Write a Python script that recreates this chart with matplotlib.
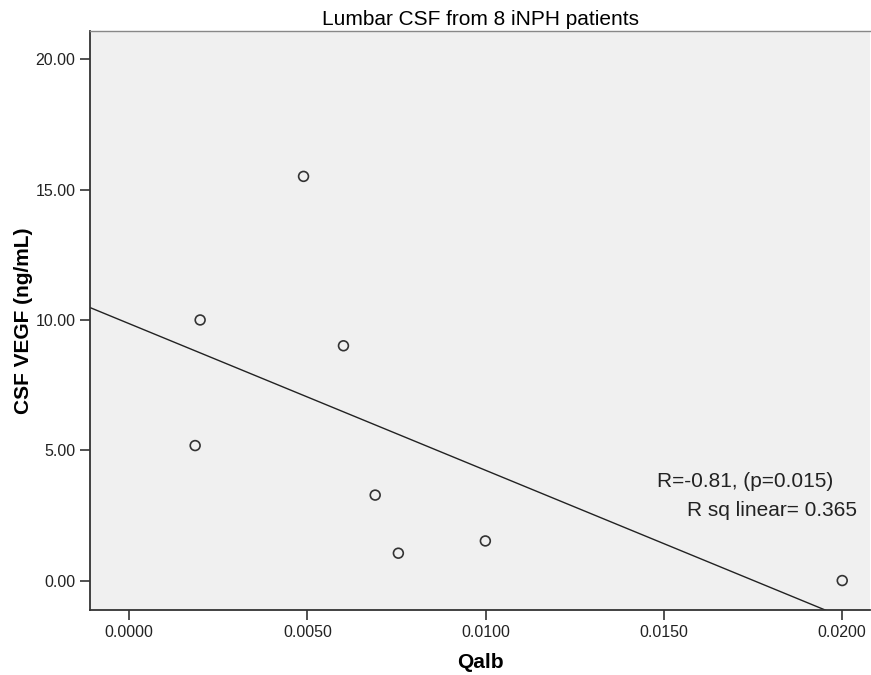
import numpy as np
import matplotlib.pyplot as plt

plt.rcParams['font.family'] = ['Liberation Sans', 'DejaVu Sans']

# Qalb vs CSF VEGF
qalb = [0.00185, 0.00199, 0.00489, 0.00601, 0.00690, 0.00755, 0.00999, 0.0200]
vegf = [5.18, 10.00, 15.51, 9.01, 3.28, 1.05, 1.52, 0.00]

x_ticks = [0.0, 0.005, 0.010, 0.015, 0.020]
y_ticks = [0.0, 5.0, 10.0, 15.0, 20.0]
x_lim = (-0.0011, 0.02078)
y_lim = (-1.13, 21.09)

fig = plt.figure(figsize=(8.71, 6.75), dpi=100)
ax = fig.add_axes([0.1033, 0.0963, 0.8956, 0.8578])
ax.set_facecolor('#f0f0f0')

# linear fit line across the whole x range
slope, intercept = np.polyfit(qalb, vegf, 1)
xs = np.array(x_lim)
ax.plot(xs, slope * xs + intercept, color='#222222', lw=1.0)

ax.scatter(qalb, vegf, s=50, facecolors='none', edgecolors='#333333', linewidths=1.2, zorder=3)

ax.set_xlim(*x_lim)
ax.set_ylim(*y_lim)
ax.set_xticks(x_ticks)
ax.set_xticklabels(['%.4f' % v for v in x_ticks])
ax.set_yticks(y_ticks)
ax.set_yticklabels(['%.2f' % v for v in y_ticks])
ax.tick_params(direction='out', length=7.5, width=1.2, color='#333333', labelsize=11.5, labelcolor='#222222', pad=3)

for side in ['left', 'bottom']:
    ax.spines[side].set_color('#333333')
    ax.spines[side].set_linewidth(1.3)
ax.spines['top'].set_color('#888888')
ax.spines['top'].set_linewidth(1.0)
ax.spines['right'].set_visible(False)

ax.set_xlabel('Qalb', fontsize=15, fontweight='bold', va='center')
ax.xaxis.set_label_coords(0.5, -0.0915)
ax.set_ylabel('CSF VEGF (ng/mL)', fontsize=15, fontweight='bold', va='center')
ax.yaxis.set_label_coords(-0.085, 0.5)
ax.set_title('Lumbar CSF from 8 iNPH patients', fontsize=15, pad=4.5)

ax.text(0.953, 0.2216, 'R=-0.81, (p=0.015)', transform=ax.transAxes, ha='right', va='center', fontsize=15, color='#222222')
ax.text(0.9837, 0.1727, 'R sq linear= 0.365', transform=ax.transAxes, ha='right', va='center', fontsize=15, color='#222222')

fig.savefig('out.png')
